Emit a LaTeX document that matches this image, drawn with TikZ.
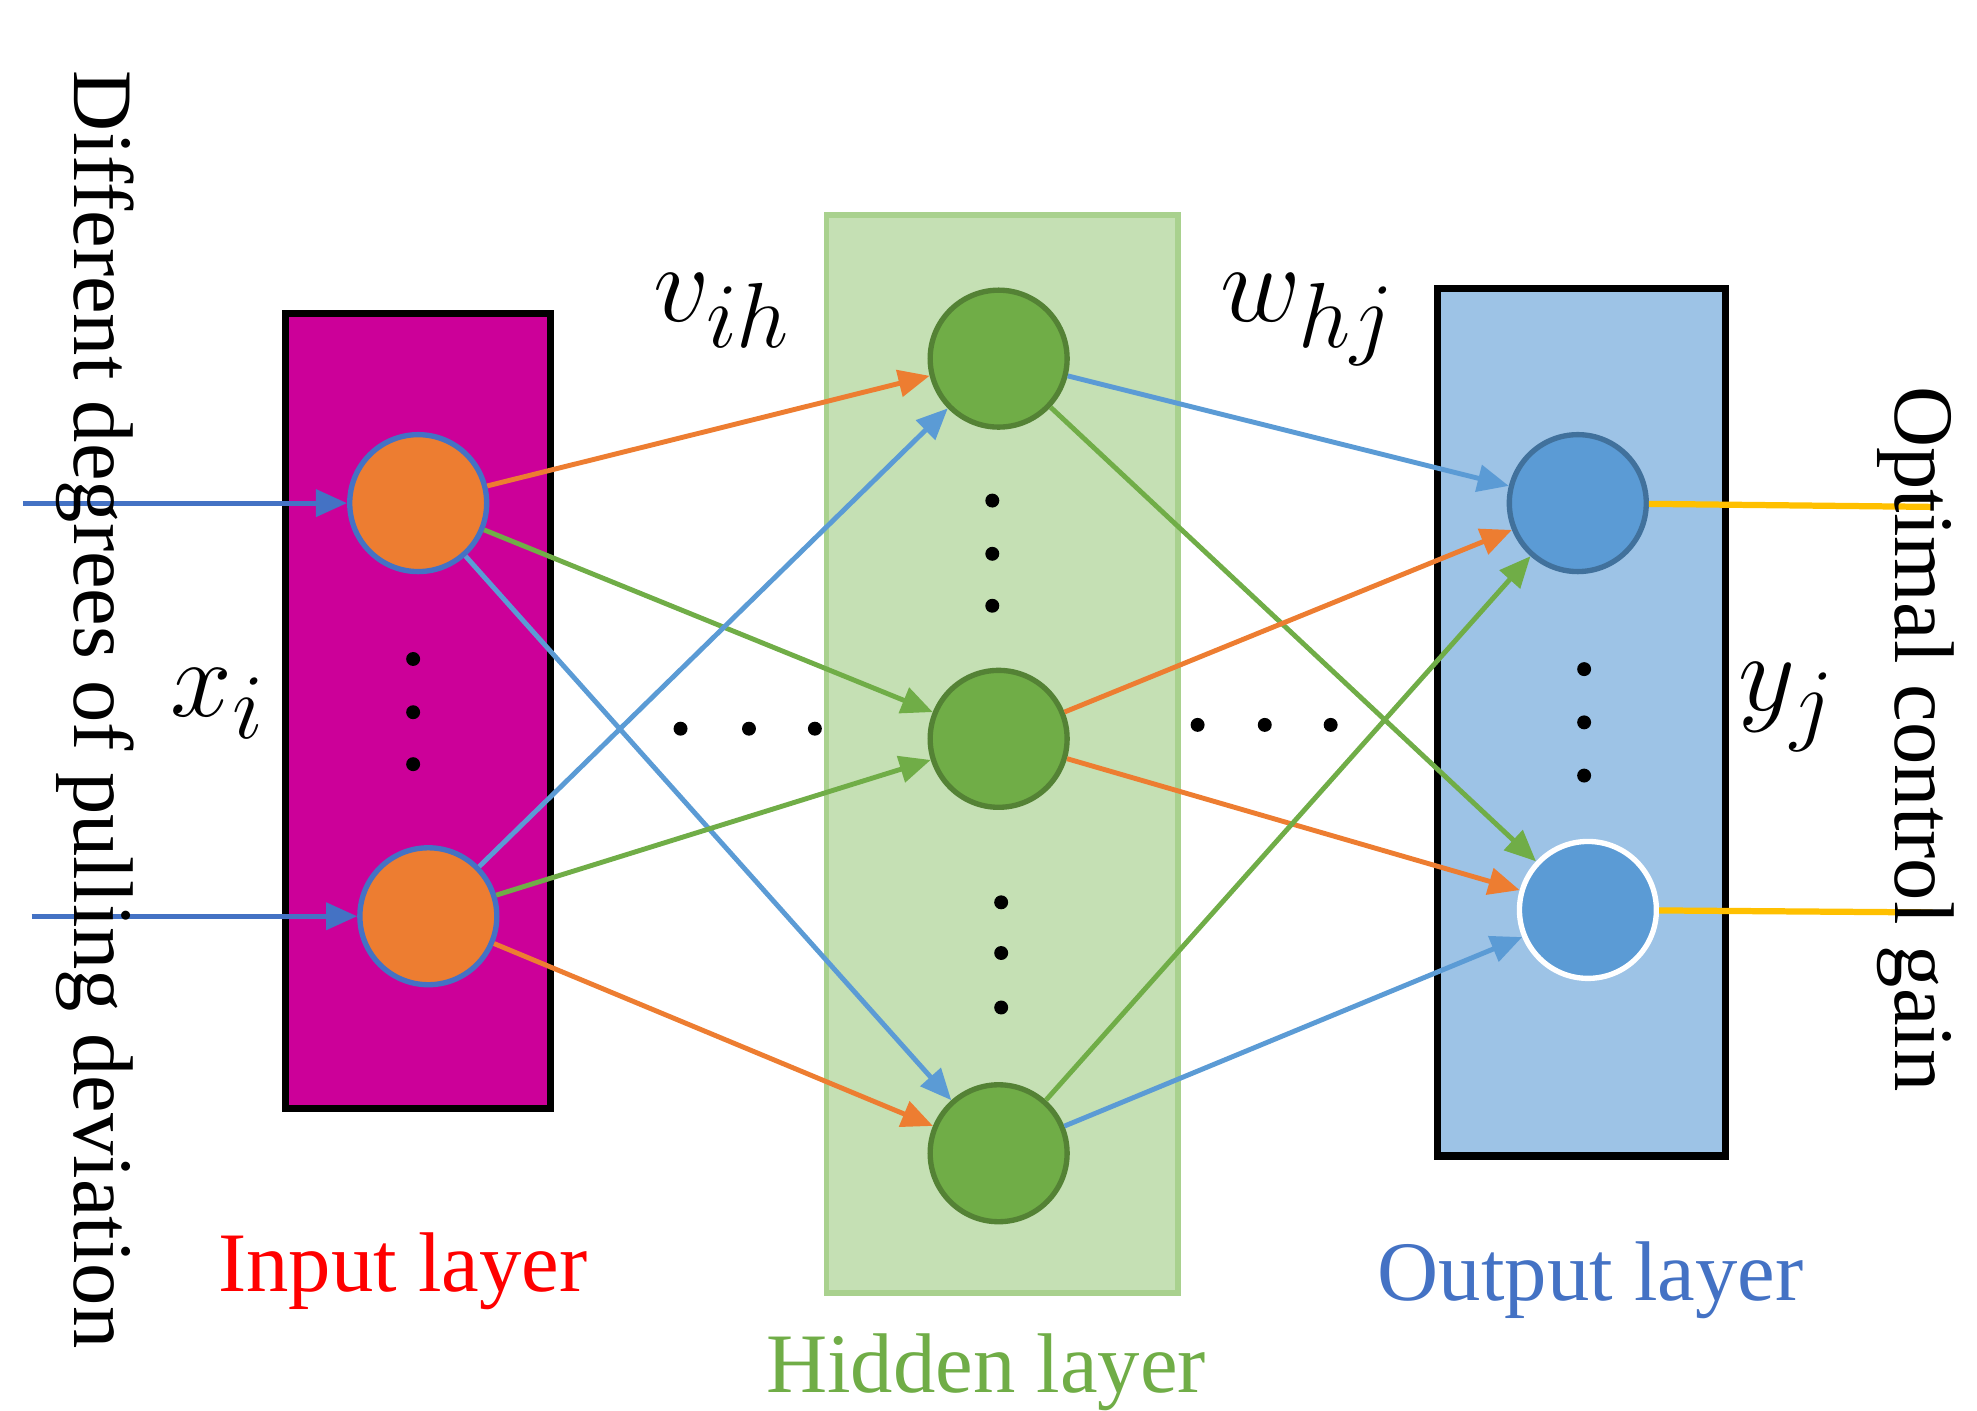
\documentclass[tikz,border=0pt]{standalone}
\usepackage{fontspec}
\setmainfont{Liberation Serif}
\usetikzlibrary{arrows.meta}
\definecolor{inorange}{HTML}{ED7D31}
\definecolor{hidgreen}{HTML}{70AD47}
\definecolor{outblue}{HTML}{5B9BD5}
\definecolor{inblue}{HTML}{4472C4}
\definecolor{gainyel}{HTML}{FFC000}
\begin{document}
\begin{tikzpicture}[x=0.01cm, y=-0.01cm,
    layer/.style={draw=black, line width=1.6pt},
    neuron/.style={circle, minimum size=1.08cm, inner sep=0pt, line width=1.2pt},
    dot/.style={circle, fill=black, inner sep=0pt, minimum size=0.11cm},
    arr/.style={-{Triangle[length=7pt, width=6pt]}, line width=1.1pt},
    lbl/.style={font=\fontsize{19}{22}\selectfont},
    sym/.style={font=\fontsize{28}{32}\selectfont},
]
\useasboundingbox (0,0) rectangle (1560,1113);
% layer boxes
\node[layer, fill={rgb,255:red,204;green,0;blue,153}, minimum width=2.09cm, minimum height=6.27cm, inner sep=0pt] (inbox) at (330,561) {};
\node[draw={rgb,255:red,169;green,209;blue,142}, line width=1.2pt, fill={rgb,255:red,197;green,224;blue,180}, minimum width=2.77cm, minimum height=8.5cm, inner sep=0pt] (hidbox) at (791,595) {};
\node[layer, fill={rgb,255:red,157;green,195;blue,230}, minimum width=2.27cm, minimum height=6.84cm, inner sep=0pt] (outbox) at (1248,570) {};
% neurons
\node[neuron, fill=inorange, draw=inblue] (i1) at (330,397) {};
\node[neuron, fill=inorange, draw=inblue] (i2) at (338,723) {};
\node[neuron, fill=hidgreen, draw={rgb,255:red,84;green,130;blue,53}] (h1) at (788,283) {};
\node[neuron, fill=hidgreen, draw={rgb,255:red,84;green,130;blue,53}] (h2) at (788,583) {};
\node[neuron, fill=hidgreen, draw={rgb,255:red,84;green,130;blue,53}] (h3) at (788,910) {};
\node[neuron, fill=outblue, draw={rgb,255:red,65;green,113;blue,156}] (o1) at (1245,397) {};
\node[neuron, fill=outblue, draw=white] (o2) at (1253,718) {};
% dots
\foreach \x/\y [count=\k] in {326/520, 326/562, 326/603, 783/395, 783/437, 783/478, 790/712, 790/752, 790/795, 1250/528, 1250/570, 1250/612, 537/575, 591/575, 643/575, 945/572, 998/572, 1050/572}
  \node[dot] (d\k) at (\x,\y) {};
% inputs and outputs
\coordinate (in1) at (18,397);
\coordinate (in2) at (25,723);
\coordinate (out1) at (1525,400);
\coordinate (out2) at (1525,720);
\draw[arr, inblue] (in1) -- (i1);
\draw[arr, inblue] (in2) -- (i2);
\draw[gainyel, line width=1.4pt] (o1) -- (out1);
\draw[gainyel, line width=1.4pt] (o2) -- (out2);
% weights input -> hidden
\draw[arr, inorange] (i1) -- (h1);
\draw[arr, hidgreen] (i1) -- (h2);
\draw[arr, outblue] (i1) -- (h3);
\draw[arr, outblue] (i2) -- (h1);
\draw[arr, hidgreen] (i2) -- (h2);
\draw[arr, inorange] (i2) -- (h3);
% weights hidden -> output
\draw[arr, outblue] (h1) -- (o1);
\draw[arr, hidgreen] (h1) -- (o2);
\draw[arr, inorange] (h2) -- (o1);
\draw[arr, inorange] (h2) -- (o2);
\draw[arr, hidgreen] (h3) -- (o1);
\draw[arr, outblue] (h3) -- (o2);
% labels
\node[sym] (vih) at (570,245) {$v_{ih}$};
\node[sym] (whj) at (1032,252) {$w_{hj}$};
\node[sym] (xi) at (172,555) {$x_i$};
\node[sym] (yj) at (1410,558) {$y_j$};
\node[lbl, text=red] (inlbl) at (318,1003) {Input layer};
\node[lbl, text=hidgreen] (hidlbl) at (778,1083) {Hidden layer};
\node[lbl, text=inblue] (outlbl) at (1255,1010) {Output layer};
\node[lbl, rotate=-90] (dev) at (75,560) {Different degrees of pulling deviation};
\node[lbl, rotate=-90] (gain) at (1512,583) {Optimal control gain};
\end{tikzpicture}
\end{document}
